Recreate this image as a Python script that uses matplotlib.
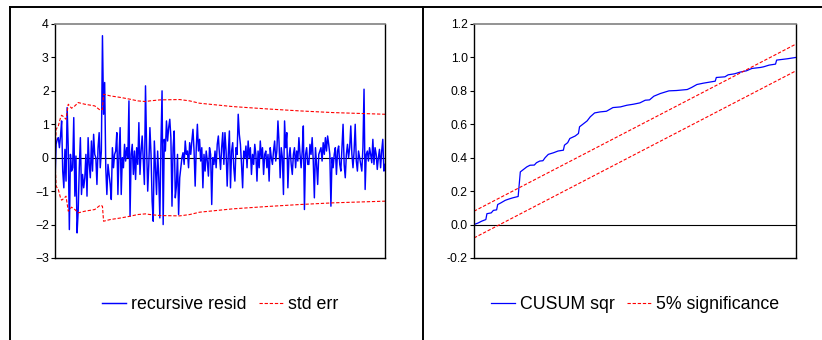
"""Recursive residuals and CUSUM of squares stability test (two panels)."""
import matplotlib
matplotlib.use("Agg")
import matplotlib.pyplot as plt
from matplotlib.lines import Line2D
from matplotlib.ticker import FormatStrFormatter

plt.rcParams["font.family"] = ["Liberation Sans", "DejaVu Sans"]

resid = [
    -0.7, 0.4, 0.55, 0.6, 0.3, 0.65, 1.1, -0.4, -0.9, 0.25,
    -0.7, 1.5, 0.3, -2.15, 0.1, -0.4, -0.3, 1.2, -1.15, 0.05,
    -2.25, -1.6, -0.3, 0.6, -1.1, -0.5, -0.9, -0.6, 0.1, -1.15,
    0.6, -0.2, -0.6, 0.5, -0.4, 0.7, 0.1, 0.0, -0.8, 0.3,
    0.75, -0.3, 0.2, 3.65, 1.3, 2.25, -0.3, -1.1, -0.2, -0.5,
    -0.8, -1.25, 0.3, -0.3, 0.1, 0.2, 0.75, -1.1, 0.1, 0.9,
    -1.1, 0.0, -0.3, 0.4, -0.1, 0.3, 0.0, 1.7, -1.75, 0.1,
    0.4, -0.5, 0.2, -0.65, 0.3, -0.2, 1.05, -0.5, 0.2, 0.65,
    -0.1, -0.8, 2.15, 0.3, -1.0, -0.2, 0.9, 0.1, -1.3, -1.9,
    0.5, -0.3, -1.1, 0.2, -0.6, -1.8, 0.4, 2.0, -2.0, 0.55,
    0.2, 1.1, 0.5, 0.9, 1.15, 0.6, -1.45, 0.3, 0.8, -1.2,
    -0.85, 0.1, -1.7, -0.6, -0.3, 0.0, 0.15, -0.2, 0.5, 0.1,
    0.2, -0.3, 0.45, 0.1, 0.5, 0.85, 0.2, -0.85, 0.3, 1.0,
    0.2, 0.55, -0.1, 0.3, -0.9, 0.1, -0.4, 0.2, -0.1, -0.55,
    0.3, 0.1, -1.4, 0.0, -0.2, 0.2, -0.3, 0.4, 0.65, 0.1,
    -0.35, 0.3, 0.75, -0.2, 0.75, 0.2, -0.85, 0.1, 0.8, -0.9,
    0.2, 0.45, -0.3, -0.7, 0.3, 0.1, 1.3, 0.7, 0.4, -0.2,
    -0.9, 0.2, 0.0, 0.35, -0.3, 0.5, 0.0, 0.3, -0.5, 0.1,
    -0.2, 0.4, 0.1, -0.7, 0.2, -0.3, 0.5, 0.0, 0.3, -0.5,
    0.1, 0.2, -0.3, 0.1, -0.7, 0.3, 0.0, -0.2, 0.2, 0.5,
    -0.1, 0.2, 1.1, 0.45, -0.6, 0.3, 0.0, -1.1, 1.1, 0.3,
    0.75, -0.9, 0.0, 0.3, -0.2, -0.5, 0.1, 0.3, -0.3, 0.2,
    -0.1, 0.6, 0.1, -0.3, 0.2, 0.95, -1.55, 0.1, 0.3, -0.2,
    -0.2, 0.4, 0.1, 0.6, -0.1, -1.2, 0.3, -0.2, -0.8, 0.1,
    0.2, 0.3, -0.1, 0.45, 0.1, 0.6, 0.2, 0.65, 0.4, 0.1,
    -1.45, 0.0, -0.3, 0.1, 0.3, -0.5, 0.2, 0.35, -0.2, -0.4,
    0.3, 1.0, -0.2, -0.6, 0.1, 0.4, 0.0, 0.3, 0.95, 0.1,
    -0.3, 0.2, 1.0, -0.1, -0.4, 0.2, 0.0, -0.2, -0.4, 0.3,
    2.05, -0.95, 0.1, 0.2, -0.1, 0.3, 0.1, -0.15, 0.55, -0.2,
    0.3, 0.1, -0.35, 0.0, 0.25, -0.3, 0.2, 0.55, -0.4, -0.2,
]
obs = list(range(len(resid)))

# +/- 2 standard error band (observation, value)
se_obs = [0, 1, 3, 5, 6, 8, 10, 12, 14, 15, 18, 21, 27, 36, 41, 43, 44,
          50, 60, 68, 75, 82, 86, 95, 113, 122, 131, 161, 192, 222, 252, 299]
se_val = [0.05, 0.85, 0.95, 1.2, 1.27, 1.22, 1.15, 1.6, 1.52, 1.48, 1.55,
          1.65, 1.6, 1.55, 1.42, 1.45, 1.9, 1.85, 1.8, 1.75, 1.7, 1.68,
          1.7, 1.73, 1.74, 1.7, 1.63, 1.53, 1.46, 1.4, 1.35, 1.3]

# CUSUM of squares (observation, value)
cus_obs = [0, 4, 7, 11, 12, 16, 18, 21, 22, 25, 29, 32, 36, 41, 43, 46,
           49, 52, 56, 58, 61, 64, 66, 69, 74, 78, 83, 84, 87, 89, 94, 97,
           98, 101, 105, 108, 112, 117, 123, 129, 136, 142, 148, 154, 159,
           163, 167, 173, 181, 188, 198, 202, 207, 213, 224, 225, 233, 236,
           242, 247, 253, 258, 266, 269, 274, 280, 281, 291, 299]
cus_val = [0.0, 0.01, 0.02, 0.03, 0.065, 0.07, 0.085, 0.088, 0.12, 0.13,
           0.145, 0.152, 0.16, 0.168, 0.315, 0.33, 0.345, 0.355, 0.356, 0.37,
           0.38, 0.382, 0.40, 0.42, 0.43, 0.44, 0.445, 0.475, 0.49, 0.515,
           0.53, 0.545, 0.585, 0.60, 0.62, 0.645, 0.668, 0.674, 0.678, 0.70,
           0.704, 0.714, 0.72, 0.728, 0.744, 0.746, 0.768, 0.784, 0.80, 0.802,
           0.808, 0.82, 0.838, 0.846, 0.858, 0.88, 0.884, 0.896, 0.902, 0.912,
           0.92, 0.934, 0.94, 0.944, 0.954, 0.96, 0.984, 0.992, 1.0]

# 5% significance lines (endpoints)
sig_obs = [0, 299]
sig_upper = [0.08, 1.08]
sig_lower = [-0.08, 0.92]

BLUE = "#0000FF"
RED = "#FF0000"
DASH = (0, (3, 1.6))

fig = plt.figure(figsize=(8.22, 3.40), dpi=100)
ax1 = fig.add_axes([55 / 822, 82 / 340, 330 / 822, 234 / 340])
ax2 = fig.add_axes([474 / 822, 82 / 340, 322 / 822, 234 / 340])

# Left panel: recursive residuals
ax1.plot(obs, resid, color=BLUE, lw=1.05, label="recursive resid")
ax1.plot(se_obs, se_val, color=RED, lw=0.8, ls=DASH, label="std err")
ax1.plot(se_obs, [-v for v in se_val], color=RED, lw=0.8, ls=DASH)
ax1.axhline(0, color="black", lw=0.8, zorder=1)
ax1.set_ylim(-3, 4)
ax1.set_yticks(range(-3, 5))

# Right panel: CUSUM of squares
ax2.plot(cus_obs, cus_val, color=BLUE, lw=0.9, label="CUSUM sqr")
ax2.plot(sig_obs, sig_upper, color=RED, lw=0.8, ls=DASH, label="5% significance")
ax2.plot(sig_obs, sig_lower, color=RED, lw=0.8, ls=DASH)
ax2.axhline(0, color="black", lw=0.8, zorder=1)
ax2.set_ylim(-0.2, 1.2)
ax2.set_yticks([-0.2, 0.0, 0.2, 0.4, 0.6, 0.8, 1.0, 1.2])
ax2.yaxis.set_major_formatter(FormatStrFormatter("%.1f"))

for ax in (ax1, ax2):
    ax.set_xlim(0, len(resid) - 1)
    ax.set_xticks([])
    ax.tick_params(axis="y", direction="out", length=3, width=0.8,
                   pad=1.5, labelsize=8.8)
    for side in ("left", "bottom", "right"):
        ax.spines[side].set_color("black")
        ax.spines[side].set_linewidth(1.0)
    ax.spines["top"].set_color("#808080")
    ax.spines["top"].set_linewidth(1.2)
    ax.legend(loc="center", bbox_to_anchor=(0.5, -0.20), ncol=2,
              frameon=False, fontsize=12.8, handlelength=1.35,
              handletextpad=0.3, columnspacing=0.67)

# Outer frame lines of the two panels
frame = dict(color="black", lw=1.4, transform=fig.transFigure)
fig.add_artist(Line2D([10 / 822, 1.0], [1 - 7 / 340, 1 - 7 / 340], **frame))
fig.add_artist(Line2D([10 / 822, 10 / 822], [0, 1 - 7 / 340], **frame))
fig.add_artist(Line2D([423 / 822, 423 / 822], [0, 1 - 7 / 340], **frame))

plt.savefig("out.png", dpi=100)
plt.close()
